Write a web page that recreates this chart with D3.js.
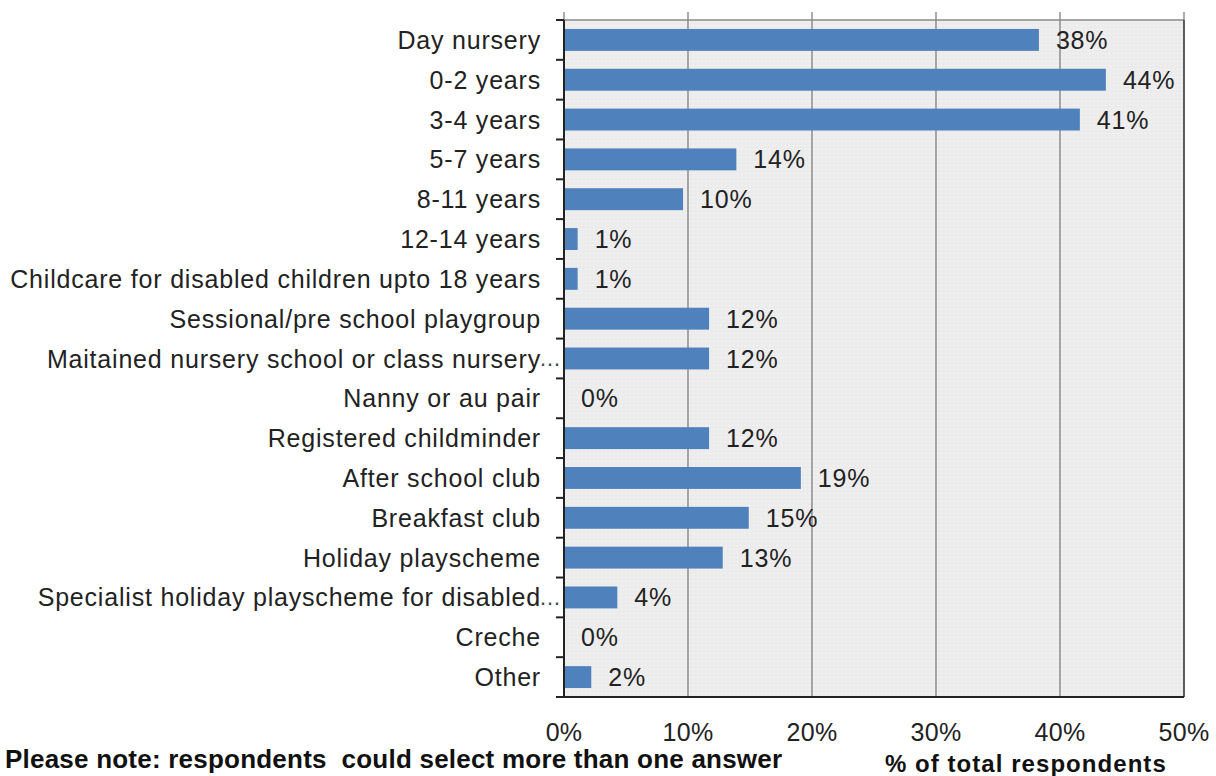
<!DOCTYPE html>
<html><head><meta charset="utf-8">
<script src="https://cdn.jsdelivr.net/npm/d3@7"></script>
<style>body{margin:0;background:#fff}svg{display:block}</style>
</head><body>
<svg id="c" width="1216" height="776"></svg>
<script>
const categories = ["Day nursery","0-2 years","3-4 years","5-7 years","8-11 years","12-14 years","Childcare for disabled children upto 18 years","Sessional/pre school playgroup","Maitained nursery school or class nursery…","Nanny or au pair","Registered childminder","After school club","Breakfast club","Holiday playscheme","Specialist holiday playscheme for disabled…","Creche","Other"];
const values = [38.3,43.7,41.6,13.9,9.6,1.1,1.1,11.7,11.7,0,11.7,19.1,14.9,12.8,4.3,0,2.2];
const valueLabels = ["38%","44%","41%","14%","10%","1%","1%","12%","12%","0%","12%","19%","15%","13%","4%","0%","2%"];
const xTicks = [0,10,20,30,40,50];
const xTickLabels = ["0%","10%","20%","30%","40%","50%"];
const note = "Please note: respondents  could select more than one answer";
const xTitle = "% of total respondents";

const svg = d3.select("#c");
const L=564, R=1184, T=20, B=697;
const x = d3.scaleLinear().domain([0,50]).range([L,R]);
const y = d3.scaleBand().domain(categories).range([T,B]).paddingInner(0.45).paddingOuter(0.225);
const font = "'Liberation Sans', Arial, sans-serif";

const defs = svg.append("defs");
const pat = defs.append("pattern").attr("id","dots").attr("width",4).attr("height",4).attr("patternUnits","userSpaceOnUse");
pat.append("rect").attr("width",4).attr("height",4).attr("fill","#ececec");
pat.append("rect").attr("x",1).attr("y",1).attr("width",1).attr("height",1).attr("fill","#f8f8f8");

svg.append("rect").attr("x",L).attr("y",T).attr("width",R-L).attr("height",B-T).attr("fill","url(#dots)");

// gridlines
svg.append("g").selectAll("line").data(xTicks).join("line")
  .attr("x1",d=>x(d)).attr("x2",d=>x(d)).attr("y1",T-8).attr("y2",B)
  .attr("stroke","#7f7f7f").attr("stroke-width",1.3);
// top border
svg.append("line").attr("x1",L).attr("x2",R).attr("y1",T).attr("y2",T).attr("stroke","#8a8a8a").attr("stroke-width",1.3);
svg.append("line").attr("x1",R).attr("x2",R).attr("y1",T).attr("y2",B).attr("stroke","#333").attr("stroke-width",1.3);

// bars
svg.append("g").selectAll("rect").data(values).join("rect")
  .attr("x",x(0)).attr("y",(d,i)=>y(categories[i])).attr("width",d=>x(d)-x(0)).attr("height",y.bandwidth())
  .attr("fill","#4f81bd");

// left axis
const bounds = categories.map(c=>y(c)-y.step()*y.paddingInner()/2);
bounds.push(B);
svg.append("line").attr("x1",L).attr("x2",L).attr("y1",T).attr("y2",B).attr("stroke","#222").attr("stroke-width",2);
svg.append("g").selectAll("line").data(bounds).join("line")
  .attr("x1",L-8).attr("x2",L).attr("y1",d=>d).attr("y2",d=>d).attr("stroke","#222").attr("stroke-width",2);
// bottom axis
svg.append("line").attr("x1",L).attr("x2",R).attr("y1",B).attr("y2",B).attr("stroke","#222").attr("stroke-width",2);

// category labels
const cl = svg.append("g").selectAll("g").data(categories).join("g");
cl.append("text")
  .attr("x",541).attr("y",d=>y(d)+y.bandwidth()/2).attr("dy","0.36em")
  .attr("text-anchor","end").attr("font-family",font).attr("font-size",25).attr("letter-spacing",0.8).attr("fill","#222")
  .text(d=>d.replace("…",""));
cl.filter(d=>d.endsWith("…")).append("text")
  .attr("x",539).attr("y",d=>y(d)+y.bandwidth()/2).attr("dy","0.36em")
  .attr("font-family",font).attr("font-size",22).attr("letter-spacing",0).attr("fill","#444")
  .text("…");

// value labels
svg.append("g").selectAll("text").data(values).join("text")
  .attr("x",d=>x(d)+17).attr("y",(d,i)=>y(categories[i])+y.bandwidth()/2).attr("dy","0.36em")
  .attr("font-family",font).attr("font-size",25).attr("letter-spacing",0.8).attr("fill","#222")
  .text((d,i)=>valueLabels[i]);

// x tick labels
svg.append("g").selectAll("text").data(xTicks).join("text")
  .attr("x",d=>x(d)).attr("y",741).attr("text-anchor","middle")
  .attr("font-family",font).attr("font-size",25).attr("letter-spacing",0.3).attr("fill","#222")
  .text((d,i)=>xTickLabels[i]);

svg.append("text").attr("x",5).attr("y",768).attr("font-family",font).attr("font-size",26).attr("font-weight","bold").attr("fill","#111").attr("letter-spacing",0.22).style("white-space","pre").text(note);
svg.append("text").attr("x",885).attr("y",772).attr("font-family",font).attr("font-size",24).attr("font-weight","bold").attr("fill","#111").attr("letter-spacing",1.05).text(xTitle);
</script>
</body></html>
